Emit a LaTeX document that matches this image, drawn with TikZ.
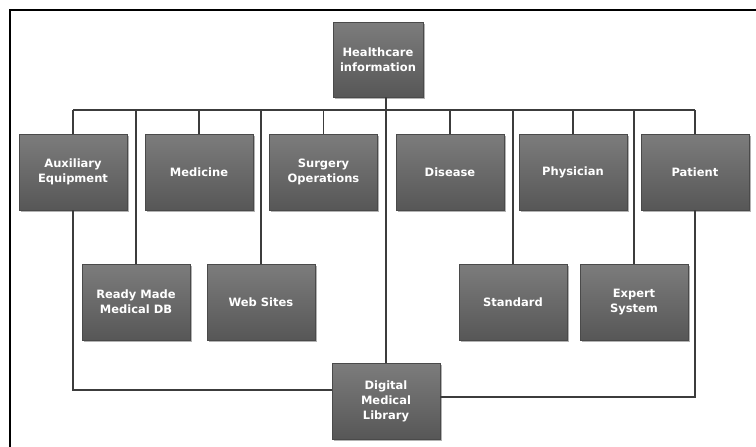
\documentclass[tikz,border=0pt]{standalone}
\usepackage{fontspec}
\setmainfont{DejaVu Sans}
\usetikzlibrary{shadows}
\definecolor{boxtop}{HTML}{7C7C7C}
\definecolor{boxmid}{HTML}{646464}
\definecolor{boxbot}{HTML}{575757}
\definecolor{boxedge}{HTML}{4A4A4A}
\definecolor{linkc}{HTML}{3C3C3C}
\begin{document}
\begin{tikzpicture}[x=1pt,y=-1pt,
  box/.style={rectangle, minimum width=108pt, minimum height=76pt,
    top color=boxtop, middle color=boxmid, bottom color=boxbot,
    draw=boxedge, line width=0.4pt, text=white, align=center,
    font=\bfseries\fontsize{11.5}{15}\selectfont,
    drop shadow={shadow xshift=1.8pt, shadow yshift=-1.8pt, opacity=0.3, fill=black}},
  link/.style={draw=linkc, line width=1.2pt},
  frame/.style={draw=black, line width=2pt}]
\useasboundingbox (0,0) rectangle (756,447);

% outer frame (top and left edges)
\draw[frame] (9.5,447) -- (9.5,9.5) -- (756,9.5);

% root
\node[box, minimum width=90pt, minimum height=75pt] (hc) at (378,59.5) {Healthcare\\information};

% first row
\node[box] (aux) at (73,172)    {Auxiliary\\Equipment};
\node[box] (med) at (199,172)   {Medicine};
\node[box] (sur) at (323.5,172) {Surgery\\Operations};
\node[box] (dis) at (450,172)   {Disease};
\node[box] (phy) at (573,172)   {Physician};
\node[box] (pat) at (695,172)   {Patient};

% second row
\node[box] (rmdb) at (136,302) {Ready Made\\Medical DB};
\node[box] (web)  at (261,302) {Web Sites};
\node[box] (std)  at (513,302) {Standard};
\node[box] (exp)  at (634,302) {Expert\\System};

% library
\node[box] (dml) at (386,401) {Digital\\Medical\\Library};

% bus and joints
\coordinate (bus) at (0,110);
\coordinate (dl) at (332,390);
\coordinate (dr) at (440,397);

\begin{scope}[on background layer/.try]
\draw[link] (aux.north |- bus) -- (pat.north |- bus);
\foreach \n in {aux,med,sur,dis,phy,pat,rmdb,web,std,exp}
  \draw[link] (\n.north) -- (\n.north |- bus);
\draw[link] (hc.south -| dml.north) -- (dml.north);
\draw[link] (aux.south) |- (dl);
\draw[link] (pat.south) |- (dr);
\end{scope}
\end{tikzpicture}
\end{document}
